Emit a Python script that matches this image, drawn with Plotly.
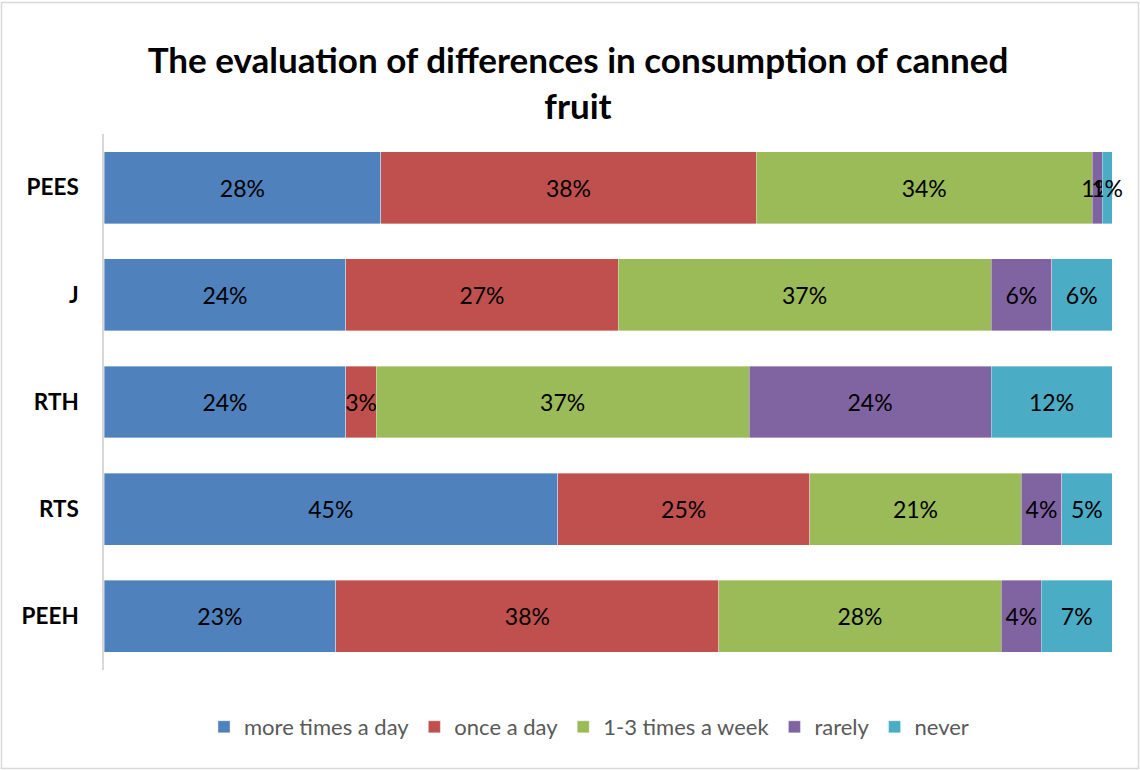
import plotly.graph_objects as go

categories = ["PEES", "J", "RTH", "RTS", "PEEH"]
series_names = ["more times a day", "once a day", "1-3 times a week", "rarely", "never"]
more_times_a_day = [28, 24, 24, 45, 23]
once_a_day = [38, 27, 3, 25, 38]
one_to_three_week = [34, 37, 37, 21, 28]
rarely = [1, 6, 24, 4, 4]
never = [1, 6, 12, 5, 7]
colors = ["#4F81BD", "#C0504D", "#9BBB59", "#8064A2", "#4BACC6"]

series_values = [more_times_a_day, once_a_day, one_to_three_week, rarely, never]

FONT = "Lato, Carlito, Calibri, sans-serif"

fig = go.Figure()
for name, vals, col in zip(series_names, series_values, colors):
    fig.add_trace(go.Bar(
        y=categories, x=vals, name=name, orientation="h",
        marker=dict(color=col, line=dict(color="rgba(255,255,255,0.6)", width=0.6)),
        text=[f"{v}%" for v in vals], texttemplate="%{text}",
        textposition="inside", insidetextanchor="middle", textangle=0,
        insidetextfont=dict(family=FONT, size=23, color="black"),
        cliponaxis=False,
    ))

W, H = 1140, 770
L, R, T, B = 104, 28, 134, 100
pw, ph = W - L - R, H - T - B

def px_x(px):
    return (px - L) / pw

def px_y(py):
    return (H - B - py) / ph

fig.update_layout(
    width=W, height=H,
    barmode="stack", barnorm="percent", bargap=0.33,
    margin=dict(l=L, r=R, t=T, b=B),
    paper_bgcolor="white", plot_bgcolor="white",
    font=dict(family=FONT),
    uniformtext=dict(mode="show", minsize=23),
    title=dict(
        text="The evaluation of differences in consumption of canned<br>fruit",
        font=dict(family=FONT, size=35, color="black", weight="bold"),
        xref="container", x=578 / W, xanchor="center",
        yref="container", y=1 - 73 / H, yanchor="top",
    ),
    legend=dict(
        orientation="h", xref="container", x=589 / W, xanchor="center",
        yref="container", y=1 - 727 / H, yanchor="middle",
        font=dict(family=FONT, size=22, color="#595959"),
        traceorder="normal", itemwidth=30,
    ),
    xaxis=dict(range=[0, 100], visible=False, showgrid=False, zeroline=False),
    yaxis=dict(
        categoryorder="array", categoryarray=categories, autorange="reversed",
        showline=True, linecolor="#D9D9D9", linewidth=1.5,
        ticks="", ticklabelstandoff=19, showgrid=False,
        tickfont=dict(family=FONT, size=22.5, color="black", weight="bold"),
    ),
    shapes=[dict(
        type="rect", xref="paper", yref="paper",
        x0=px_x(1.5), x1=px_x(1138.5), y0=px_y(768.5), y1=px_y(2.5),
        line=dict(color="#D9D9D9", width=1.5), fillcolor="rgba(0,0,0,0)", layer="below",
    )],
)

fig.write_html(
    "out.html",
    config={"displayModeBar": False},
    post_script="document.body.style.margin='0';document.body.style.overflow='hidden';",
)
